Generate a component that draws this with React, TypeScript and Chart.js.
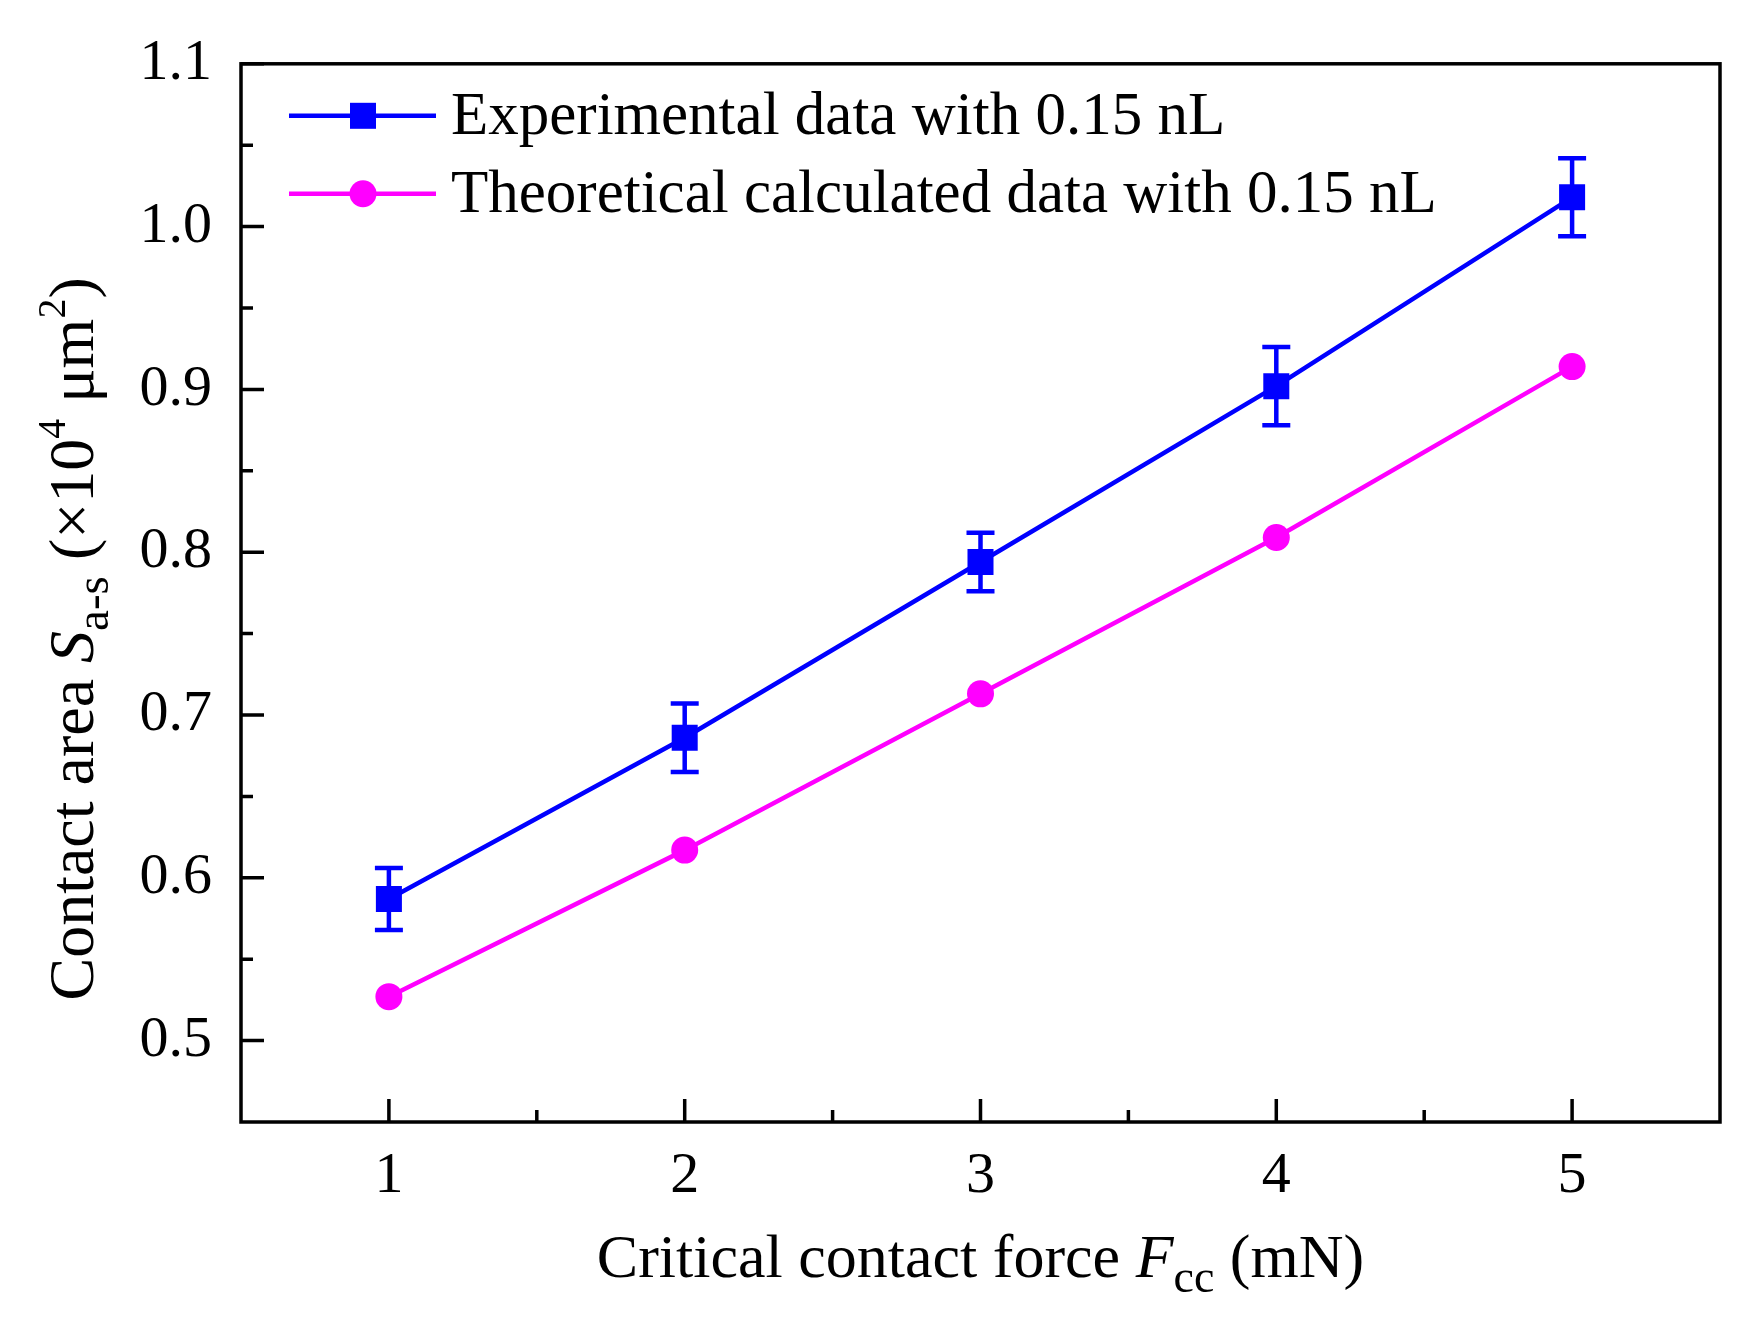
import React, { useEffect, useRef } from "react";
import { Chart, registerables } from "chart.js";

Chart.register(...registerables);

// ---- data ----
const forces = [1, 2, 3, 4, 5];
const experimental = [0.587, 0.686, 0.794, 0.902, 1.018];
const experimentalErr = [0.019, 0.021, 0.018, 0.024, 0.024];
const theoretical = [0.527, 0.617, 0.713, 0.809, 0.914];
const xMajorTicks = [1, 2, 3, 4, 5];
const xMinorTicks = [1.5, 2.5, 3.5, 4.5];
const yMajorTicks = [0.5, 0.6, 0.7, 0.8, 0.9, 1.0, 1.1];
const yMinorTicks = [0.55, 0.65, 0.75, 0.85, 0.95, 1.05];
const legendLabels = [
  "Experimental data with 0.15 nL",
  "Theoretical calculated data with 0.15 nL",
];

const W = 1751;
const H = 1322;
const FONT = "'Liberation Serif', 'Times New Roman', serif";
const BLUE = "#0000ff";
const MAGENTA = "#ff00ff";

type Piece = { t: string; size: number; italic?: boolean; dy?: number };

function drawPieces(ctx: CanvasRenderingContext2D, pieces: Piece[], cx: number, baseline: number) {
  let total = 0;
  for (const p of pieces) {
    ctx.font = `${p.italic ? "italic " : ""}${p.size}px ${FONT}`;
    total += ctx.measureText(p.t).width;
  }
  let x = cx - total / 2;
  ctx.textAlign = "left";
  ctx.textBaseline = "alphabetic";
  for (const p of pieces) {
    ctx.font = `${p.italic ? "italic " : ""}${p.size}px ${FONT}`;
    ctx.fillText(p.t, x, baseline + (p.dy || 0));
    x += ctx.measureText(p.t).width;
  }
}

const decorPlugin = {
  id: "decor",
  beforeDatasetsDraw(chart: any) {
    const ctx = chart.ctx as CanvasRenderingContext2D;
    const xs = chart.scales.x;
    const ys = chart.scales.y;
    ctx.save();
    ctx.strokeStyle = BLUE;
    ctx.lineWidth = 4.5;
    const cap = 14;
    forces.forEach((f, i) => {
      const x = xs.getPixelForValue(f);
      const yt = ys.getPixelForValue(experimental[i] + experimentalErr[i]);
      const yb = ys.getPixelForValue(experimental[i] - experimentalErr[i]);
      ctx.beginPath();
      ctx.moveTo(x, yt);
      ctx.lineTo(x, yb);
      ctx.moveTo(x - cap, yt);
      ctx.lineTo(x + cap, yt);
      ctx.moveTo(x - cap, yb);
      ctx.lineTo(x + cap, yb);
      ctx.stroke();
    });
    ctx.restore();
  },
  afterDraw(chart: any) {
    const ctx = chart.ctx as CanvasRenderingContext2D;
    const a = chart.chartArea;
    const xs = chart.scales.x;
    const ys = chart.scales.y;
    ctx.save();
    // frame
    ctx.strokeStyle = "#000";
    ctx.lineWidth = 3.5;
    ctx.strokeRect(a.left, a.top, a.right - a.left, a.bottom - a.top);
    // ticks (inward)
    ctx.lineWidth = 3.5;
    ctx.beginPath();
    xMajorTicks.forEach((v) => {
      const x = xs.getPixelForValue(v);
      ctx.moveTo(x, a.bottom);
      ctx.lineTo(x, a.bottom - 23);
    });
    xMinorTicks.forEach((v) => {
      const x = xs.getPixelForValue(v);
      ctx.moveTo(x, a.bottom);
      ctx.lineTo(x, a.bottom - 12);
    });
    yMajorTicks.forEach((v) => {
      const y = ys.getPixelForValue(v);
      ctx.moveTo(a.left, y);
      ctx.lineTo(a.left + 23, y);
    });
    yMinorTicks.forEach((v) => {
      const y = ys.getPixelForValue(v);
      ctx.moveTo(a.left, y);
      ctx.lineTo(a.left + 12, y);
    });
    ctx.stroke();

    // legend
    const rows = [
      { color: BLUE, shape: "rect", label: legendLabels[0], dy: 52 },
      { color: MAGENTA, shape: "circle", label: legendLabels[1], dy: 130 },
    ];
    rows.forEach((r) => {
      const y = a.top + r.dy;
      ctx.strokeStyle = r.color;
      ctx.fillStyle = r.color;
      ctx.lineWidth = 4.5;
      ctx.beginPath();
      ctx.moveTo(a.left + 48, y);
      ctx.lineTo(a.left + 195, y);
      ctx.stroke();
      const mx = a.left + 122;
      if (r.shape === "rect") {
        ctx.fillRect(mx - 13, y - 13, 26, 26);
      } else {
        ctx.beginPath();
        ctx.arc(mx, y, 13.5, 0, Math.PI * 2);
        ctx.fill();
      }
      ctx.fillStyle = "#000";
      ctx.font = `61px ${FONT}`;
      ctx.textAlign = "left";
      ctx.textBaseline = "middle";
      ctx.fillText(r.label, a.left + 210, y + 2);
    });

    // x title
    ctx.fillStyle = "#000";
    const cx = (a.left + a.right) / 2;
    drawPieces(
      ctx,
      [
        { t: "Critical contact force ", size: 62 },
        { t: "F", size: 62, italic: true },
        { t: "cc", size: 46, dy: 15 },
        { t: " (mN)", size: 62 },
      ],
      cx,
      a.bottom + 155
    );

    // y title (rotated)
    ctx.save();
    ctx.translate(a.left - 148, (a.top + a.bottom) / 2 + 46);
    ctx.rotate(-Math.PI / 2);
    drawPieces(
      ctx,
      [
        { t: "Contact area ", size: 64 },
        { t: "S", size: 64, italic: true },
        { t: "a-s", size: 47, dy: 15 },
        { t: " (\u00d710", size: 64 },
        { t: "4", size: 40, dy: -28 },
        { t: " \u03bcm", size: 64 },
        { t: "2", size: 40, dy: -28 },
        { t: ")", size: 64 },
      ],
      0,
      0
    );
    ctx.restore();
    ctx.restore();
  },
};

export default function App() {
  const ref = useRef<HTMLCanvasElement | null>(null);
  useEffect(() => {
    if (!ref.current) return;
    const chart = new Chart(ref.current, {
      type: "line",
      data: {
        datasets: [
          {
            label: legendLabels[0],
            data: forces.map((f, i) => ({ x: f, y: experimental[i] })),
            borderColor: BLUE,
            backgroundColor: BLUE,
            borderWidth: 4.5,
            pointStyle: "rect",
            pointRadius: 18.4,
            pointBackgroundColor: BLUE,
            pointBorderWidth: 0,
            tension: 0,
          },
          {
            label: legendLabels[1],
            data: forces.map((f, i) => ({ x: f, y: theoretical[i] })),
            borderColor: MAGENTA,
            backgroundColor: MAGENTA,
            borderWidth: 4.5,
            pointStyle: "circle",
            pointRadius: 13.5,
            pointBackgroundColor: MAGENTA,
            pointBorderWidth: 0,
            tension: 0,
          },
        ],
      },
      options: {
        animation: false,
        responsive: false,
        devicePixelRatio: 1,
        layout: { padding: { top: 62, right: 31, left: 0, bottom: 0 } },
        plugins: {
          legend: { display: false },
          tooltip: { enabled: false },
          title: { display: false },
        },
        scales: {
          x: {
            type: "linear",
            min: 0.5,
            max: 5.5,
            grid: { display: false, drawTicks: false },
            border: { display: false },
            afterBuildTicks: (s: any) => {
              s.ticks = xMajorTicks.map((v) => ({ value: v }));
            },
            afterFit: (s: any) => {
              s.height = 200;
            },
            ticks: {
              color: "#000",
              font: { family: FONT, size: 58 },
              padding: 20,
              callback: (v: any) => String(v),
            },
          },
          y: {
            type: "linear",
            min: 0.45,
            max: 1.1,
            grid: { display: false, drawTicks: false },
            border: { display: false },
            afterBuildTicks: (s: any) => {
              s.ticks = yMajorTicks.map((v) => ({ value: v }));
            },
            afterFit: (s: any) => {
              s.width = 241;
            },
            ticks: {
              color: "#000",
              font: { family: FONT, size: 58 },
              padding: 29,
              callback: (v: any) => Number(v).toFixed(1),
            },
          },
        },
      },
      plugins: [decorPlugin],
    });
    return () => chart.destroy();
  }, []);
  return (
    <div style={{ position: "fixed", left: 0, top: 0, width: W, height: H, background: "#fff" }}>
      <canvas ref={ref} width={W} height={H} style={{ display: "block", width: W, height: H }} />
    </div>
  );
}
